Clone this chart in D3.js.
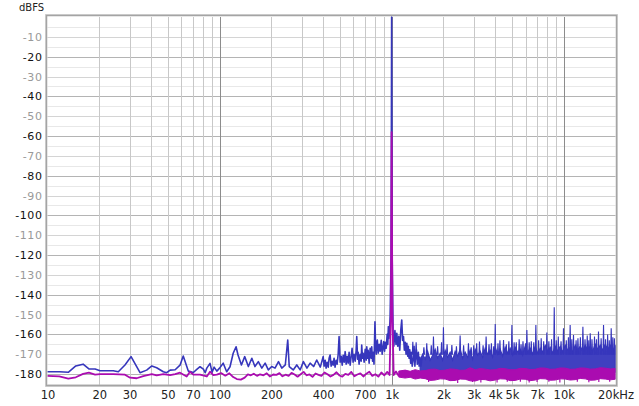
<!DOCTYPE html>
<html>
<head>
<meta charset="utf-8">
<script src="https://cdn.jsdelivr.net/npm/d3@7/dist/d3.min.js"></script>
<style>
body { margin: 0; background: #fff; }
svg text { font-family: "DejaVu Sans", sans-serif; }
</style>
</head>
<body>
<div id="chart"></div>
<script>
var w = 639;
var h = 406;

var blueColor = "#3636bc";
var blueFill = "#4040c0";
var magColor = "#aa0cb0";

// x axis labels (Hz)
var xTickVals = [10, 20, 30, 50, 70, 100, 200, 400, 700, 1000, 2000, 3000, 4000, 5000, 7000, 10000, 20000];
var xTickText = ["10", "20", "30", "50", "70", "100", "200", "400", "700", "1k", "2k", "3k", "4k", "5k", "7k", "10k", "20kHz"];
// y axis labels (dBFS)
var yTickVals = [-10, -20, -30, -40, -50, -60, -70, -80, -90, -100, -110, -120, -130, -140, -150, -160, -170, -180];

// blue channel, line part [Hz, dBFS]
var blueLine = [
  [10, -178.8], [11.7, -178.8], [13.2, -179.1], [14.6, -175.9], [16.1, -175], [17.4, -177.4], [18.9, -177.4],
  [20.2, -178.3], [24.1, -178.3], [25.8, -178.8], [28.2, -175.4], [30.6, -171.2], [34.5, -179.3], [37.7, -178],
  [40.4, -175.9], [43.1, -176.8], [47.1, -178.8], [49.3, -179.3], [51.6, -178], [55.2, -177.8], [58.9, -175.5],
  [61.5, -170.9], [65.8, -178.5], [70.4, -179.2], [74, -177.5], [77, -176.3], [80.5, -177.5], [82.5, -179.3],
  [84.3, -177], [88, -174.6], [90.5, -179], [93, -176.5], [96.4, -178.5], [100, -177], [105, -174.5],
  [110, -178.8], [115, -176.3], [120, -169.5], [124.7, -166.2], [128, -170.4], [134, -175.4], [140, -171.2],
  [147, -176.2], [154, -172], [160.5, -176.2], [168, -173.7], [176, -177], [184, -174.5], [192, -177.9],
  [201, -176.2], [210, -177], [220, -173.7], [230, -177], [241, -175.4], [249, -162.8], [254, -176.2],
  [268, -177.9], [281, -175.4], [294, -177.9], [307, -173.7], [322, -177], [336, -174.5], [352, -176.2],
  [367, -172.9], [385, -176.5],
  [400, -171.2], [405, -176], [411, -173], [416, -177], [422, -174], [428, -176.5], [433, -172], [439, -170.4],
  [445, -176], [451, -173.5], [457, -175.5], [463, -172], [469, -176.5], [476, -173], [482, -175], [489, -170],
  [495, -161.1], [502, -174], [509, -171], [516, -175.5], [523, -170.5], [530, -174], [537, -168.7], [544, -175],
  [551, -171], [559, -174.5], [566, -169], [574, -175.5], [582, -171], [589, -167], [597, -174], [605, -170],
  [614, -173.5], [622, -168], [627, -161.1], [634, -172.5], [639, -169], [647, -175], [656, -170], [665, -173.5],
  [670, -165.3], [677, -172], [683, -169.5], [692, -174], [702, -167.5], [711, -173], [717, -166.2], [725, -172],
  [730, -168], [740, -174.5], [750, -167], [760, -172], [766, -166.2], [775, -173.5], [781, -169], [790, -175],
  [800, -153.6], [807, -166], [813, -170], [820, -164], [826, -162.8], [835, -169.5], [847, -165], [858, -168.5],
  [870, -163], [881, -170], [893, -166], [900, -163.6], [910, -168.5], [920, -164], [930, -167], [942, -160],
  [950, -165], [957, -156.1], [965, -162], [973, -158], [980, -151], [993, -120], [1000, 0], [1007, -120],
  [1020, -160], [1030, -166], [1045, -158], [1060, -165], [1072, -159.4], [1085, -166], [1100, -161],
  [1115, -168], [1130, -158], [1145, -152.7], [1158, -163], [1172, -161.1], [1186, -168], [1200, -164],
  [1213, -170], [1226, -164.5], [1240, -171], [1250, -166], [1262, -172], [1275, -167.8], [1290, -174.5],
  [1300, -169], [1317, -176], [1334, -172.9], [1350, -166], [1365, -176], [1380, -170], [1394, -167.8],
  [1410, -175], [1430, -169], [1445, -176], [1460, -171.5], [1480, -176], [1500, -172]
];

// blue channel, dense noise band top edge [Hz, dBFS]
var blueBandTop = [
  [1465, -173], [1515, -170], [1566, -172.5], [1619, -168.5], [1674, -173], [1731, -170.5], [1790, -167.5],
  [1851, -172], [1914, -169.5], [1979, -173], [2046, -168], [2116, -171.5], [2188, -169], [2262, -173],
  [2339, -168.5], [2419, -171], [2502, -167.5], [2587, -172], [2675, -169], [2766, -171.5], [2860, -168],
  [2957, -172.5], [3058, -167.5], [3162, -170.5], [3269, -168.5], [3381, -171.5], [3496, -167], [3615, -170],
  [3738, -168], [3865, -171.5], [3996, -166.5], [4132, -170], [4273, -167.5], [4418, -171], [4569, -166.5],
  [4724, -169.5], [4886, -167], [5052, -170.5], [5224, -166.5], [5402, -169], [5585, -167.5], [5775, -170.5],
  [5972, -166], [6175, -169], [6386, -167], [6603, -170], [6828, -166], [7060, -169.5], [7301, -167],
  [7549, -169], [7806, -165.5], [8072, -168.5], [8347, -166.5], [8631, -169.5], [8925, -166], [9229, -168.5],
  [9543, -166], [9868, -169], [10202, -165.5], [10550, -168], [10910, -166.5], [11280, -169], [11665, -165.5],
  [12060, -168], [12473, -166], [12900, -168.5], [13335, -165.5], [13790, -168], [14260, -166], [14745, -168.5],
  [15246, -165], [15765, -167.5], [16302, -165.5], [16857, -168], [17431, -165], [18025, -167.5],
  [18637, -165.5], [19270, -168], [19928, -166]
];
var blueBandFloor = -179;

// blue channel, single spikes above the band [Hz, dBFS]
var blueSpikes = [
  [1328, -163.7], [1388, -164], [1540, -166.5], [1600, -164.5], [1700, -165.5], [1750, -161.1], [1850, -166],
  [1950, -164], [2000, -156.4], [2100, -165], [2239, -165.3], [2380, -166], [2500, -160.5], [2620, -165.5],
  [2795, -164.5], [2900, -166.5], [3000, -165.5], [3120, -164.5], [3240, -163.6], [3400, -165.5],
  [3540, -161.1], [3680, -165], [3800, -164.5], [3920, -166], [4000, -154.7], [4150, -164.5], [4260, -163],
  [4470, -162.8], [4640, -165], [4800, -163.5], [5000, -155.2], [5150, -164], [5300, -164], [5510, -162.5],
  [5650, -165], [5800, -163.5], [6000, -164.5], [6110, -157.8], [6300, -164], [6480, -163.5], [6700, -164],
  [6890, -155.2], [7150, -163], [7400, -162], [7650, -163.5], [7980, -159.1], [8200, -163.5], [8500, -162.5],
  [8810, -146.3], [9050, -163], [9300, -161], [9650, -163.5], [9970, -156.9], [10350, -163], [10650, -161.5],
  [10900, -155.2], [11150, -162.5], [11400, -160.3], [11800, -163], [12100, -162], [12500, -161.5],
  [12930, -156.1], [13300, -162.5], [13700, -160.5], [14000, -163], [14260, -159.4], [14600, -162.5],
  [15100, -161], [15500, -162.5], [15930, -158.6], [16500, -162], [17040, -155.2], [17500, -162.5],
  [18000, -160], [18400, -163], [18880, -156.9], [19300, -161.5], [19700, -162]
];

// magenta channel, line part [Hz, dBFS]
var magLine = [
  [10, -180.9], [11.7, -181.2], [13.2, -182.3], [14.6, -181.6], [16.1, -179.9], [17.4, -179.3], [18.9, -180.3],
  [20.2, -180], [24.1, -180], [28.2, -180.3], [30.2, -181.8], [33, -182.1], [36, -181], [40.4, -180],
  [43.1, -180.6], [47.1, -180], [51.6, -180.5], [55.2, -180], [58.9, -179.3], [64.4, -181.2], [67.3, -178.8],
  [70.4, -180.3], [77, -180.3], [84.3, -181.2], [88, -178.8], [92, -180.5], [96.4, -180.3], [102, -179.5],
  [108, -180.8], [114, -179.6], [120, -181.5], [126, -182.5], [133, -182.8], [140, -181.8], [146, -180.2],
  [152, -180.6], [158, -179.8], [165, -180.9], [172, -180.1], [180, -180.6], [188, -179.6], [196, -181.2],
  [205, -180.2], [214, -180.4], [223, -179.5], [232, -181.1], [242, -180.3], [252, -180.9], [262, -179.4],
  [273, -180.2], [284, -181.3], [296, -180.1], [308, -178.9], [320, -180.6], [333, -180.2], [347, -181.4],
  [361, -179.7], [376, -180.4], [391, -180.9], [407, -179.2], [424, -180.1], [441, -181.2], [459, -180.4],
  [478, -179.1], [497, -180.7], [517, -181.3], [538, -179.9], [560, -180.4], [583, -178.9], [607, -181.1],
  [632, -180.2], [658, -179.6], [685, -181.2], [713, -179.8], [742, -178.8], [772, -180.9], [804, -180.1],
  [837, -181.3], [871, -179.2], [906, -180.6], [943, -178.9], [973, -180.5], [990, -150], [1000, -58],
  [1010, -150], [1028, -180.5], [1060, -178.7], [1100, -181]
];

// magenta channel, noise band edges [Hz, dBFS]
var magTop = [
  [1100, -178.5], [1198, -178], [1281, -178.6], [1370, -177.8], [1465, -178.4], [1566, -178.2], [1674, -177.6],
  [1790, -177.5], [1914, -178.2], [2046, -178], [2188, -177.4], [2339, -177.6], [2502, -178.1], [2675, -178],
  [2860, -176.8], [3058, -177.8], [3269, -177.2], [3496, -177.5], [3738, -177.9], [3996, -177.8],
  [4273, -177.1], [4569, -177.3], [4886, -177.8], [5224, -177.8], [5585, -177.1], [5972, -177.2],
  [6386, -177.7], [6828, -177.6], [7301, -176.9], [7806, -177], [8347, -177.6], [8925, -177.5],
  [9543, -176.9], [10202, -177], [10910, -177.6], [11665, -177.5], [12473, -176.9], [13335, -177],
  [14260, -177.5], [15246, -177.4], [16302, -176.8], [17431, -177], [18637, -177.4], [19928, -177.2]
];
var magBottom = [
  [1100, -181.5], [1198, -182], [1281, -181.6], [1370, -182.5], [1465, -182], [1566, -182.3], [1674, -183.2],
  [1790, -183], [1914, -182.4], [2046, -182.5], [2188, -183.3], [2339, -183.2], [2502, -182.5], [2675, -182.6],
  [2860, -183.4], [3058, -183.5], [3269, -182.7], [3496, -182.8], [3738, -183.4], [3996, -183],
  [4273, -182.4], [4569, -182.5], [4886, -183.3], [5224, -183.2], [5585, -182.5], [5972, -182.6],
  [6386, -183.3], [6828, -183], [7301, -182.3], [7806, -182.4], [8347, -183.1], [8925, -183],
  [9543, -182.4], [10202, -182.5], [10910, -183], [11665, -182.8], [12473, -182.2], [13335, -182.4],
  [14260, -183.1], [15246, -183], [16302, -182.3], [17431, -182.5], [18637, -182.9], [19928, -182.6]
];
// magenta channel, single dips below the band [Hz, dBFS]
var magDips = [
  [1640, -184], [2420, -184.5], [2950, -184], [3300, -184.2], [4100, -184.3], [4700, -183.9], [5600, -183.8],
  [6300, -184.2], [7000, -184], [8200, -183.9], [9500, -184.2], [12000, -183.8], [14000, -184.1], [16000, -184],
  [18500, -183.9]
];

var x = d3.scaleLog().domain([10, 20000]).range([47.5, 615.5]);
var y = d3.scaleLinear().domain([-185.5, 0]).range([385, 17]);

var svg = d3.select("#chart")
    .append("svg")
    .attr("width", w)
    .attr("height", h);

//horizontal grid every 5 dB
var hGrid = d3.range(-5, -186, -5);
svg.append("g").selectAll("line")
    .data(hGrid)
    .enter()
    .append("line")
    .attr("x1", x(10)).attr("x2", x(20000))
    .attr("y1", function (d) { return Math.round(y(d)) + 0.5; })
    .attr("y2", function (d) { return Math.round(y(d)) + 0.5; })
    .attr("stroke", function (d) {
        if (d % 20 === 0) return "#b4b4b4";
        if (d % 10 === 0) return "#d4d4d4";
        return "#e8e8e8";
    });

//vertical grid on 1..9 per decade
var vGrid = x.ticks().filter(function (d) { return d > 10 && d < 20000; });
svg.append("g").selectAll("line")
    .data(vGrid)
    .enter()
    .append("line")
    .attr("y1", y(0)).attr("y2", y(-185.5))
    .attr("x1", function (d) { return Math.round(x(d)) + 0.5; })
    .attr("x2", function (d) { return Math.round(x(d)) + 0.5; })
    .attr("stroke", function (d) {
        var l = Math.log10(d);
        return Math.abs(l - Math.round(l)) < 1e-6 ? "#8c8c8c" : "#c8c8c8";
    });

var line = d3.line()
    .x(function (d) { return x(d[0]); })
    .y(function (d) { return y(d[1]); });

var plot = svg.append("g");

//blue noise band
plot.append("path")
    .datum(blueBandTop)
    .attr("fill", blueFill)
    .attr("stroke", blueColor)
    .attr("stroke-width", 1.2)
    .attr("d", d3.area()
        .x(function (d) { return x(d[0]); })
        .y0(y(blueBandFloor))
        .y1(function (d) { return y(d[1]); }));

//blue spikes
plot.append("g").selectAll("path")
    .data(blueSpikes)
    .enter()
    .append("path")
    .attr("fill", blueColor)
    .attr("stroke", blueColor)
    .attr("stroke-width", 1.1)
    .attr("d", function (d) {
        return "M" + x(d[0] * 0.993) + "," + y(-170) + "L" + x(d[0]) + "," + y(d[1]) + "L" + x(d[0] * 1.007) + "," + y(-170) + "Z";
    });

//blue line
plot.append("path")
    .datum(blueLine)
    .attr("fill", "none")
    .attr("stroke", blueColor)
    .attr("stroke-width", 1.6)
    .attr("stroke-linejoin", "round")
    .attr("d", line);

//magenta band
plot.append("path")
    .datum(magTop.map(function (d, i) { return [d[0], d[1], magBottom[i][1]]; }))
    .attr("fill", magColor)
    .attr("stroke", magColor)
    .attr("stroke-width", 1)
    .attr("d", d3.area()
        .x(function (d) { return x(d[0]); })
        .y0(function (d) { return y(d[2]); })
        .y1(function (d) { return y(d[1]); }));

plot.append("g").selectAll("line")
    .data(magDips)
    .enter()
    .append("line")
    .attr("x1", function (d) { return x(d[0]); })
    .attr("x2", function (d) { return x(d[0]); })
    .attr("y1", y(-182))
    .attr("y2", function (d) { return y(d[1]); })
    .attr("stroke", magColor)
    .attr("stroke-width", 1.2);

//magenta line
plot.append("path")
    .datum(magLine)
    .attr("fill", "none")
    .attr("stroke", magColor)
    .attr("stroke-width", 1.8)
    .attr("stroke-linejoin", "round")
    .attr("d", line);

//frame
svg.append("rect")
    .attr("x", 45.5).attr("y", 14.5)
    .attr("width", 572).attr("height", 372)
    .attr("fill", "none")
    .attr("stroke", "#d6d6d6")
    .attr("stroke-width", 1);
svg.append("rect")
    .attr("x", 46.5).attr("y", 15.5)
    .attr("width", 570).attr("height", 370)
    .attr("fill", "none")
    .attr("stroke", "#a4a4a4")
    .attr("stroke-width", 1.5);

//axes
var xAxis = d3.axisBottom(x)
    .tickValues(xTickVals)
    .tickFormat(function (d, i) { return xTickText[i]; })
    .tickSize(0)
    .tickPadding(6);
var gx = svg.append("g")
    .attr("transform", "translate(0,385)")
    .call(xAxis);
gx.select(".domain").remove();
gx.selectAll("text")
    .attr("font-size", 11.5)
    .attr("font-family", "DejaVu Sans, sans-serif")
    .attr("fill", "#222");

var yAxis = d3.axisLeft(y)
    .tickValues(yTickVals)
    .tickFormat(function (d) { return d; })
    .tickSize(0)
    .tickPadding(5);
var gy = svg.append("g")
    .attr("transform", "translate(47.5,0)")
    .call(yAxis);
gy.select(".domain").remove();
gy.selectAll("text")
    .attr("font-size", 11)
    .attr("font-family", "DejaVu Sans, sans-serif")
    .attr("letter-spacing", 0.6)
    .attr("fill", function (d) { return d % 20 === 0 ? "#111" : "#999"; })
    .text(function (d) { return "-" + Math.abs(d); });

svg.append("text")
    .attr("x", 19)
    .attr("y", 11)
    .attr("font-size", 10)
    .attr("font-family", "DejaVu Sans, sans-serif")
    .attr("fill", "#222")
    .text("dBFS");
</script>
</body>
</html>
